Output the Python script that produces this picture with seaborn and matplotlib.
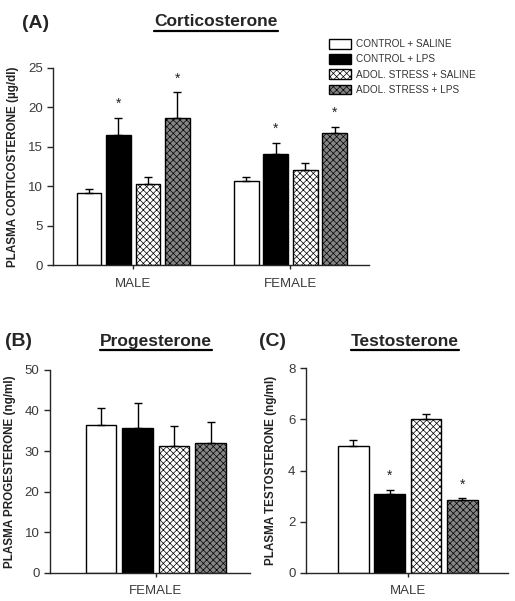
import numpy as np
import pandas as pd
import matplotlib
matplotlib.use('Agg')
import matplotlib.pyplot as plt
from matplotlib.patches import Patch
from matplotlib.lines import Line2D
import seaborn as sns

# ---------------------------------------------------------------
# Data (mean and upper SEM)
# ---------------------------------------------------------------
groups = ['CONTROL + SALINE', 'CONTROL + LPS',
          'ADOL. STRESS + SALINE', 'ADOL. STRESS + LPS']

cort_sexes = ['MALE', 'FEMALE']
cort_male_mean = [9.1, 16.5, 10.3, 18.7]
cort_male_sem = [0.6, 2.2, 0.9, 3.2]
cort_female_mean = [10.7, 14.1, 12.1, 16.7]
cort_female_sem = [0.5, 1.4, 0.8, 0.8]
cort_male_sig = [False, True, False, True]
cort_female_sig = [False, True, False, True]

prog_mean = [36.5, 35.8, 31.2, 31.9]
prog_sem = [4.0, 6.0, 4.9, 5.2]
prog_sig = [False, False, False, False]

testo_mean = [4.97, 3.08, 6.0, 2.86]
testo_sem = [0.21, 0.17, 0.22, 0.05]
testo_sig = [False, True, False, True]

# styles per group
face_colors = ['white', 'black', 'white', '#858585']
hatches = [None, None, 'xxxxx', 'xxxxx']

sns.set_style('ticks')
plt.rcParams['font.family'] = ['Liberation Sans', 'DejaVu Sans']
plt.rcParams['hatch.linewidth'] = 0.5
plt.rcParams['axes.linewidth'] = 1.0

fig = plt.figure(figsize=(5.15, 6.01), dpi=100)
ax_a = fig.add_axes([0.103, 0.559, 0.6136, 0.328])
ax_b = fig.add_axes([0.097, 0.0466, 0.388, 0.338])
ax_c = fig.add_axes([0.594, 0.0466, 0.392, 0.341])


def make_df(sexes, means, sems, sigs):
    rows = []
    for s, m, e, g in zip(sexes, means, sems, sigs):
        for grp, mv, ev, sv in zip(groups, m, e, g):
            rows.append({'sex': s, 'group': grp, 'value': mv,
                         'sem': ev, 'sig': sv})
    return pd.DataFrame(rows)


def draw_panel(ax, df, width):
    sns.barplot(data=df, x='sex', y='value', hue='group',
                hue_order=groups, palette=face_colors, errorbar=None,
                width=width, gap=0.16, edgecolor='black', linewidth=1.0,
                legend=False, ax=ax)
    sexes = list(df['sex'].unique())
    bar_containers = list(ax.containers)
    for i, cont in enumerate(bar_containers):
        sub = df[df['group'] == groups[i]].set_index('sex').loc[sexes]
        xs, hs = [], []
        for bar in cont:
            bar.set_facecolor(face_colors[i])
            bar.set_edgecolor('black')
            if hatches[i]:
                bar.set_hatch(hatches[i])
            xs.append(bar.get_x() + bar.get_width() / 2)
            hs.append(bar.get_height())
        xs = np.array(xs)
        hs = np.array(hs)
        sem = sub['sem'].values
        ax.errorbar(xs, hs, yerr=[np.zeros_like(sem), sem], fmt='none',
                    ecolor='black', elinewidth=1.0, capsize=3, capthick=1.0,
                    zorder=1)
        for x, top, sig in zip(xs, hs + sem, sub['sig'].values):
            if sig:
                ax.annotate('*', xy=(x, top), xytext=(0, 5),
                            textcoords='offset points', ha='center',
                            va='bottom', fontsize=10, color='#222222')
    sns.despine(ax=ax)
    ax.set_xlabel('')
    ax.tick_params(axis='both', direction='out', length=4, width=1.0,
                   labelsize=9.5, labelcolor='#3a3a3a')
    ax.tick_params(axis='x', length=3, pad=6)


draw_panel(ax_a, make_df(cort_sexes,
                         [cort_male_mean, cort_female_mean],
                         [cort_male_sem, cort_female_sem],
                         [cort_male_sig, cort_female_sig]), 0.75)
ax_a.set_xlim(-0.51, 1.5)
ax_a.set_ylim(0, 25)
ax_a.set_yticks([0, 5, 10, 15, 20, 25])
ax_a.set_ylabel('PLASMA CORTICOSTERONE (µg/dl)', fontsize=8.4,
                fontweight='bold', color='#222222', labelpad=6)

draw_panel(ax_b, make_df(['FEMALE'], [prog_mean], [prog_sem], [prog_sig]), 0.73)
ax_b.set_xlim(-0.53, 0.47)
ax_b.set_ylim(0, 50)
ax_b.set_yticks([0, 10, 20, 30, 40, 50])
ax_b.set_ylabel('PLASMA PROGESTERONE (ng/ml)', fontsize=8.4,
                fontweight='bold', color='#222222', labelpad=6)

draw_panel(ax_c, make_df(['MALE'], [testo_mean], [testo_sem], [testo_sig]), 0.72)
ax_c.set_xlim(-0.505, 0.495)
ax_c.set_ylim(0, 8)
ax_c.set_yticks([0, 2, 4, 6, 8])
ax_c.set_ylabel('PLASMA TESTOSTERONE (ng/ml)', fontsize=8.4,
                fontweight='bold', color='#222222', labelpad=8)

# panel letters and underlined titles
W, H = 515, 601
letters = [('(A)', 22, 23), ('(B)', 5, 341), ('(C)', 259, 341)]
for txt, x, y in letters:
    fig.text(x / W, 1 - y / H, txt, fontsize=14, fontweight='bold',
             ha='left', va='center')

titles = [('Corticosterone', 216, 22), ('Progesterone', 156, 341),
          ('Testosterone', 405, 341)]
title_objs = []
for txt, x, y in titles:
    t = fig.text(x / W, 1 - y / H, txt, fontsize=12.5, fontweight='bold',
                 ha='center', va='center')
    title_objs.append(t)

fig.canvas.draw()
renderer = fig.canvas.get_renderer()
for t in title_objs:
    bb = t.get_window_extent(renderer)
    y_line = (bb.y0 - 1) / fig.bbox.height
    fig.add_artist(Line2D([bb.x0 / fig.bbox.width, bb.x1 / fig.bbox.width],
                          [y_line, y_line], color='black', linewidth=1.6,
                          transform=fig.transFigure))

# legend
handles = [Patch(facecolor=fc, edgecolor='black', hatch=h, linewidth=1.0)
           for fc, h in zip(face_colors, hatches)]
fig.legend(handles, groups, loc='upper left',
           bbox_to_anchor=(325 / W, 1 - 35 / H), frameon=False,
           fontsize=7.2, handlelength=2.2, handleheight=1.1,
           handletextpad=0.5, labelspacing=0.5, borderaxespad=0,
           labelcolor='#333333')

fig.savefig('out.png', dpi=100)
